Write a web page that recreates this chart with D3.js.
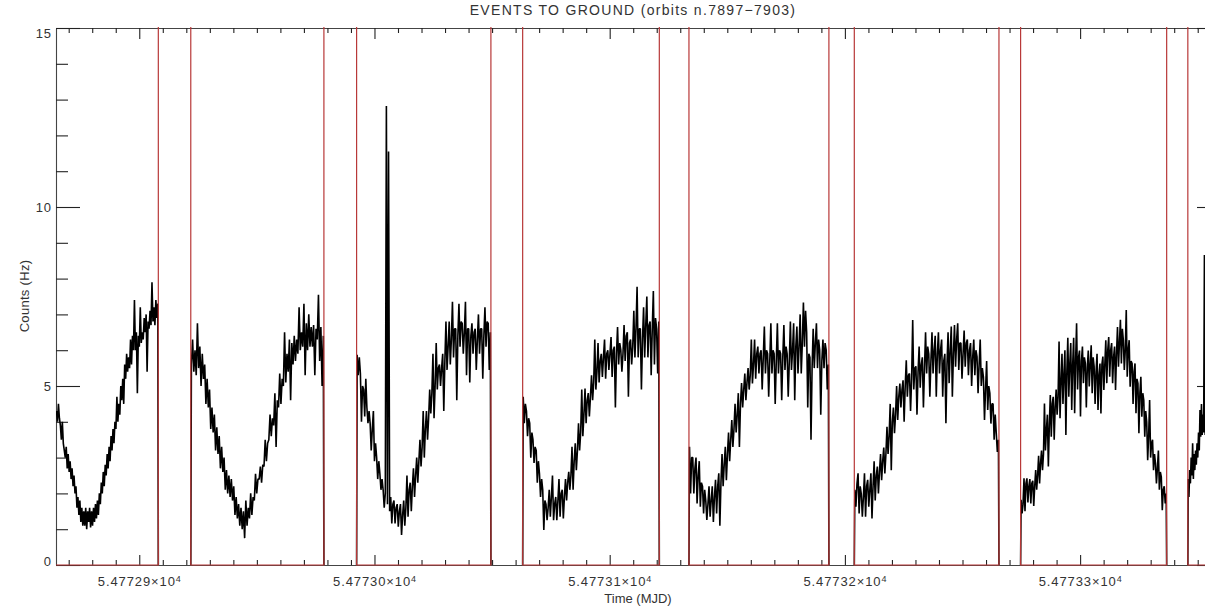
<!DOCTYPE html>
<html>
<head>
<meta charset="utf-8">
<script src="https://cdn.jsdelivr.net/npm/d3@7"></script>
<style>
  body { margin: 0; background: #fff; }
  svg text { font-family: "Liberation Sans", Arial, sans-serif; fill: #333; }
</style>
</head>
<body>
<svg id="chart" width="1205" height="606"></svg>
<script>
// orbit windows in MJD (data taken between the gaps)
var orbitStart = [54772.8646, 54772.9219, 54772.9924, 54773.0630, 54773.1337, 54773.2040, 54773.2747, 54773.3458];
var orbitEnd   = [54772.9081, 54772.9785, 54773.0495, 54773.1211, 54773.1932, 54773.2655, 54773.3368, 54773.3599];

// counts (Hz), evenly sampled inside each orbit window
var orbit0 = [4.3, 4.0, 4.5, 4.1, 3.9, 3.5, 4.0, 3.4, 3.2, 3.0, 3.3, 2.7, 3.1, 2.6, 2.9, 2.4, 2.7, 2.2, 2.5, 2.0, 2.2, 1.6, 1.9, 1.4, 1.8, 1.2, 1.6, 1.1, 1.5, 1.1, 1.6, 1.0, 1.5, 1.2, 1.6, 1.05, 1.5, 1.1, 1.6, 1.2, 1.7, 1.3, 1.8, 1.4, 2.0, 1.7, 2.3, 2.0, 2.6, 2.2, 2.8, 2.5, 3.1, 2.7, 3.3, 2.9, 3.6, 3.2, 3.8, 3.4, 4.0, 3.8, 4.7, 4.0, 4.5, 4.2, 5.0, 4.6, 5.2, 4.5, 5.6, 5.2, 5.9, 5.4, 5.8, 5.5, 6.3, 5.6, 6.4, 6.0, 7.4, 6.0, 6.5, 4.8, 6.4, 6.1, 7.2, 6.2, 6.5, 6.3, 6.9, 6.5, 7.0, 5.4, 6.8, 6.6, 7.1, 6.7, 7.9, 6.8, 7.2, 6.7, 7.4, 6.9, 7.3];
var orbit1 = [5.6, 6.3, 5.4, 6.0, 5.3, 6.75, 5.5, 6.1, 5.0, 5.9, 5.2, 5.6, 4.5, 5.2, 4.4, 4.9, 3.8, 4.4, 3.7, 4.2, 3.2, 3.85, 3.1, 3.6, 2.7, 3.3, 2.6, 3.0, 2.1, 2.65, 2.0, 2.5, 1.9, 2.4, 1.8, 2.2, 1.4, 1.9, 1.3, 1.7, 1.1, 1.6, 1.0, 1.5, 0.75, 1.8, 1.1, 1.6, 1.3, 2.0, 1.4, 1.9, 1.8, 2.55, 2.0, 2.4, 2.4, 2.75, 2.3, 2.8, 2.75, 3.5, 2.9, 3.4, 3.5, 4.2, 3.6, 4.1, 3.9, 4.8, 3.3, 4.6, 4.4, 5.35, 4.5, 5.2, 5.0, 6.5, 5.1, 5.9, 5.4, 6.3, 4.6, 6.2, 5.6, 6.4, 5.7, 6.3, 5.9, 7.2, 6.0, 6.5, 6.1, 7.3, 5.3, 6.75, 6.0, 7.0, 6.1, 6.65, 6.1, 6.7, 5.3, 6.6, 6.3, 7.55, 5.7, 6.65, 5.0, 6.4];
var orbit2 = [5.87, 5.3, 5.8, 5.35, 4.0, 5.0, 4.9, 4.15, 5.2, 4.4, 3.96, 4.3, 3.96, 3.2, 3.8, 4.3, 2.9, 3.4, 3.0, 2.4, 2.9, 2.55, 2.1, 2.4, 2.1, 1.6, 2.0, 12.82, 1.7, 11.55, 1.5, 1.9, 1.16, 1.7, 1.8, 1.16, 1.6, 1.7, 1.07, 1.5, 1.7, 0.84, 1.4, 1.8, 1.1, 1.6, 2.5, 1.35, 2.1, 2.3, 1.5, 2.2, 2.7, 1.9, 2.5, 3.0, 2.3, 2.9, 3.5, 2.75, 3.3, 4.3, 3.0, 3.8, 4.3, 3.5, 4.1, 4.9, 4.23, 4.8, 5.9, 4.1, 5.0, 6.2, 4.9, 5.5, 5.6, 5.0, 5.5, 5.9, 4.3, 5.7, 6.8, 5.45, 6.1, 6.8, 5.6, 6.3, 7.35, 5.8, 6.6, 6.6, 4.6, 6.4, 7.3, 6.1, 6.8, 6.75, 5.9, 6.5, 7.35, 5.3, 6.6, 6.6, 5.1, 6.4, 6.75, 5.9, 6.5, 6.6, 5.45, 6.3, 7.0, 5.9, 6.6, 6.6, 5.2, 6.4, 7.2, 6.1, 6.8, 6.75, 5.45, 6.5];
var orbit3 = [4.7, 3.96, 4.5, 4.3, 3.6, 4.1, 3.96, 3.0, 3.7, 3.5, 2.85, 3.3, 3.2, 2.3, 2.9, 2.55, 1.9, 2.4, 2.1, 0.98, 1.8, 1.7, 1.25, 1.6, 2.1, 1.35, 1.9, 2.5, 1.25, 1.7, 1.9, 1.25, 1.8, 2.4, 1.35, 2.0, 2.1, 1.3, 1.9, 2.4, 1.8, 2.3, 2.6, 2.1, 2.5, 3.3, 2.1, 2.9, 3.4, 2.65, 3.2, 3.96, 3.2, 3.7, 4.9, 3.6, 4.2, 4.93, 3.96, 4.6, 4.8, 4.15, 4.7, 5.3, 4.6, 5.1, 6.3, 4.9, 5.4, 6.2, 5.1, 5.7, 5.9, 5.25, 5.8, 6.3, 5.2, 5.9, 6.0, 5.45, 5.9, 6.37, 5.25, 6.0, 6.1, 4.4, 5.9, 6.65, 5.6, 6.2, 6.0, 5.4, 5.9, 6.7, 5.7, 6.4, 6.5, 4.7, 6.2, 6.3, 5.6, 6.1, 7.1, 5.8, 6.6, 7.77, 5.8, 6.6, 6.6, 4.9, 6.3, 7.2, 5.8, 6.7, 7.5, 5.8, 6.7, 6.8, 5.3, 6.6, 7.65, 5.6, 6.9, 6.6, 5.35, 6.8];
var orbit4 = [3.3, 2.0, 3.0, 3.0, 2.0, 2.7, 3.0, 1.72, 2.5, 2.9, 1.63, 2.3, 2.2, 1.44, 2.1, 1.8, 1.26, 1.7, 2.2, 1.35, 1.8, 2.2, 1.2, 1.9, 2.38, 1.44, 2.2, 2.56, 1.1, 2.3, 3.1, 2.2, 2.8, 3.3, 2.37, 3.1, 3.7, 2.9, 3.5, 4.05, 3.3, 3.8, 4.5, 3.7, 4.2, 4.8, 3.3, 4.5, 5.08, 4.4, 4.9, 5.35, 4.6, 5.1, 5.5, 4.9, 5.3, 6.3, 5.07, 5.6, 6.3, 5.2, 5.9, 6.1, 5.35, 5.9, 6.0, 4.9, 5.8, 6.66, 5.35, 6.0, 5.9, 4.7, 5.7, 6.75, 5.35, 6.0, 5.9, 4.5, 5.7, 6.75, 5.35, 6.0, 5.9, 4.6, 5.8, 6.7, 5.45, 6.1, 5.9, 4.7, 5.7, 6.8, 5.45, 6.0, 6.75, 4.6, 6.1, 6.66, 5.35, 6.1, 7.0, 5.35, 6.2, 7.33, 6.1, 7.1, 6.5, 4.4, 5.9, 5.8, 3.5, 5.5, 6.6, 5.5, 6.2, 6.75, 5.5, 6.3, 6.0, 4.2, 5.7, 6.3, 5.5, 6.2, 6.0, 4.9, 5.6];
var orbit5 = [2.1, 1.63, 2.27, 2.56, 1.44, 2.2, 1.99, 1.35, 1.9, 2.56, 1.35, 2.2, 2.38, 1.63, 2.1, 2.56, 1.3, 2.2, 2.9, 1.8, 2.5, 2.75, 2.0, 2.6, 3.1, 2.37, 2.9, 3.28, 2.56, 3.1, 3.86, 3.1, 3.6, 4.5, 2.65, 4.0, 4.4, 3.68, 4.2, 5.0, 4.05, 4.7, 5.07, 4.4, 4.9, 5.16, 4.0, 5.0, 5.72, 4.7, 5.3, 5.35, 4.3, 5.2, 6.84, 4.9, 5.5, 5.55, 4.2, 5.4, 6.1, 4.95, 5.6, 5.8, 4.4, 5.5, 6.5, 5.35, 6.1, 5.9, 4.7, 5.7, 6.5, 5.35, 6.0, 6.4, 4.7, 5.9, 6.5, 5.35, 6.0, 6.3, 4.7, 5.7, 5.9, 3.96, 5.6, 6.5, 5.08, 6.0, 6.66, 4.7, 5.9, 6.7, 5.54, 6.3, 6.75, 5.45, 6.2, 6.2, 5.2, 5.9, 6.55, 5.54, 6.2, 6.3, 5.3, 6.0, 6.2, 5.0, 5.8, 6.3, 5.3, 6.0, 5.82, 4.8, 5.6, 6.3, 5.0, 5.5, 5.25, 4.05, 4.9, 5.7, 4.33, 5.0, 4.8, 3.95, 4.5, 4.5, 3.5, 4.2, 3.67, 3.16, 3.5];
var orbit6 = [1.82, 1.44, 1.7, 2.42, 1.5, 2.28, 2.42, 1.75, 2.2, 2.4, 1.72, 2.28, 2.35, 1.65, 2.2, 2.65, 2.1, 2.5, 3.05, 2.28, 2.84, 3.2, 2.65, 3.1, 4.51, 3.2, 3.77, 4.2, 2.75, 3.9, 4.75, 3.58, 4.5, 4.7, 3.5, 4.4, 4.9, 4.2, 4.7, 6.24, 4.1, 5.1, 5.9, 4.5, 5.3, 6.0, 3.63, 5.4, 6.35, 4.7, 5.6, 6.2, 4.33, 5.6, 6.35, 4.24, 5.7, 6.75, 4.9, 5.8, 5.99, 4.15, 5.7, 6.1, 5.08, 5.8, 5.63, 4.4, 5.5, 5.99, 4.99, 5.6, 6.14, 4.8, 5.8, 5.54, 4.5, 5.4, 5.9, 4.33, 5.3, 5.63, 4.23, 5.6, 5.82, 4.89, 5.6, 6.28, 5.08, 6.0, 6.37, 5.26, 6.0, 6.2, 5.08, 5.8, 6.1, 4.89, 5.9, 6.65, 5.54, 6.2, 6.85, 5.63, 6.6, 6.28, 5.45, 6.0, 7.12, 5.26, 6.0, 6.28, 4.98, 5.7, 5.63, 4.5, 5.4, 5.63, 4.24, 5.2, 5.07, 3.68, 4.8, 5.26, 4.14, 4.8, 4.6, 3.58, 4.3, 4.0, 2.93, 3.6, 4.61, 3.0, 3.4, 3.5, 2.65, 3.1, 2.84, 2.28, 2.7, 3.2, 2.1, 2.6, 2.46, 1.53, 2.1, 2.2, 1.72, 2.0];
var orbit7 = [2.4, 1.9, 2.65, 2.28, 3.0, 2.5, 3.4, 2.4, 3.1, 2.65, 3.2, 2.8, 3.4, 3.0, 3.7, 3.2, 4.33, 3.58, 4.5, 3.63, 4.2, 3.7, 8.66, 3.63, 4.3, 4.6, 3.9, 4.4, 4.8, 4.0, 4.6, 4.9, 4.2, 4.8, 5.0, 4.3, 4.9, 5.1, 4.4, 5.0, 5.2, 4.5, 5.1, 5.3, 4.6];

var xDomain = [54772.8646, 54773.3599];
var yDomain = [0, 15];
var xTicksMajor = [54772.9, 54773.0, 54773.1, 54773.2, 54773.3];
var xTickLabels = ["5.47729", "5.47730", "5.47731", "5.47732", "5.47733"];
var xTickExp = "4";
var yTicksMajor = [0, 5, 10, 15];
var yTickLabels = ["0", "5", "10", "15"];
var yTicksMinor = [1, 2, 3, 4, 6, 7, 8, 9, 11, 12, 13, 14];
var flagHigh = 20; // gap flag, off the top of the plot

// plot box (right edge falls just outside the window)
var pLeft = 56, pRight = 1221, pTop = 28, pBottom = 565;

var svg = d3.select("#chart");
var x = d3.scaleLinear().domain(xDomain).range([pLeft, pRight]);
var y = d3.scaleLinear().domain(yDomain).range([pBottom, pTop]);

var xTicksMinor = d3.range(0, 50).map(function(i){ return 54772.87 + i * 0.01 })
  .filter(function(t){ return t < xDomain[1] && xTicksMajor.every(function(m){ return Math.abs(m - t) > 1e-6 }) });

svg.append("clipPath").attr("id", "plotclip")
  .append("rect").attr("x", pLeft).attr("y", pTop - 1).attr("width", pRight - pLeft).attr("height", pBottom - pTop + 2);

function tidy(g, keepDomain){
  if (!keepDomain) g.select(".domain").remove();
  g.select(".domain").attr("stroke", "#444").attr("stroke-width", 1.1);
  g.selectAll(".tick line").attr("stroke", "#222").attr("stroke-width", 1.1);
  g.selectAll(".tick text").attr("font-size", 13).attr("letter-spacing", "0.9px").attr("fill", "#333");
}

// bottom axis
var gB = svg.append("g").attr("transform", "translate(0," + pBottom + ")")
  .call(d3.axisBottom(x).tickValues(xTicksMajor).tickSizeInner(-10).tickSizeOuter(0).tickPadding(12)
    .tickFormat(function(d, i){ return xTickLabels[i] }));
tidy(gB, true);
gB.selectAll(".tick text").each(function(){
  var t = d3.select(this);
  var lbl = t.text();
  t.text(lbl + "×10");
  t.append("tspan").attr("dy", "-0.5em").attr("font-size", 9).text(xTickExp);
});
svg.append("g").attr("transform", "translate(0," + pBottom + ")")
  .call(d3.axisBottom(x).tickValues(xTicksMinor).tickSizeInner(-5).tickSizeOuter(0).tickFormat(""))
  .call(tidy, false);

// top axis
svg.append("g").attr("transform", "translate(0," + pTop + ")")
  .call(d3.axisTop(x).tickValues(xTicksMajor).tickSizeInner(-11).tickSizeOuter(0).tickFormat(""))
  .call(tidy, true);
svg.append("g").attr("transform", "translate(0," + pTop + ")")
  .call(d3.axisTop(x).tickValues(xTicksMinor).tickSizeInner(-5).tickSizeOuter(0).tickFormat(""))
  .call(tidy, false);

// left axis
var gL = svg.append("g").attr("transform", "translate(" + pLeft + ",0)")
  .call(d3.axisLeft(y).tickValues(yTicksMajor).tickSizeInner(-24).tickSizeOuter(0).tickPadding(4)
    .tickFormat(function(d, i){ return yTickLabels[i] }));
tidy(gL, true);
gL.selectAll(".tick text").attr("dy", function(d){ return d === 0 ? "0em" : (d === 15 ? "0.72em" : "0.36em") });
svg.append("g").attr("transform", "translate(" + pLeft + ",0)")
  .call(d3.axisLeft(y).tickValues(yTicksMinor).tickSizeInner(-12).tickSizeOuter(0).tickFormat(""))
  .call(tidy, false);

// right axis (sits just past the window edge)
svg.append("g").attr("transform", "translate(" + pRight + ",0)")
  .call(d3.axisRight(y).tickValues(yTicksMajor).tickSizeInner(-24).tickSizeOuter(0).tickFormat(""))
  .call(tidy, true);
svg.append("g").attr("transform", "translate(" + pRight + ",0)")
  .call(d3.axisRight(y).tickValues(yTicksMinor).tickSizeInner(-12).tickSizeOuter(0).tickFormat(""))
  .call(tidy, false);

// titles
svg.append("text").attr("x", 633).attr("y", 15).attr("text-anchor", "middle")
  .attr("font-size", 14).attr("letter-spacing", "1.3px")
  .text("EVENTS TO GROUND (orbits n.7897\u22127903)");
svg.append("text").attr("x", 638).attr("y", 603).attr("text-anchor", "middle")
  .attr("font-size", 13).text("Time (MJD)");
svg.append("text").attr("transform", "translate(29,296) rotate(-90)").attr("text-anchor", "middle")
  .attr("font-size", 13).attr("letter-spacing", "0.3px").text("Counts (Hz)");

// light curve
var orbits = [orbit0, orbit1, orbit2, orbit3, orbit4, orbit5, orbit6, orbit7];
var line = d3.line().x(function(d){ return x(d.t) }).y(function(d){ return y(d.v) });
var plot = svg.append("g").attr("clip-path", "url(#plotclip)");

orbits.forEach(function(vals, i){
  var t0 = orbitStart[i], t1 = orbitEnd[i], n = vals.length;
  var pts = [];
  if (i > 0) pts.push({t: t0, v: 0});
  vals.forEach(function(v, j){ pts.push({t: t0 + (t1 - t0) * (j + 0.5) / n, v: v}) });
  if (i < orbits.length - 1) pts.push({t: t1, v: 0});
  plot.append("path").datum(pts)
    .attr("fill", "none").attr("stroke", "#000").attr("stroke-width", 1.6)
    .attr("stroke-linejoin", "bevel").attr("d", line);
});

// gap flag (red)
var flag = [{t: xDomain[0], v: 0}];
for (var i = 0; i < orbits.length - 1; i++) {
  flag.push({t: orbitEnd[i], v: 0}, {t: orbitEnd[i], v: flagHigh},
            {t: orbitStart[i + 1], v: flagHigh}, {t: orbitStart[i + 1], v: 0});
}
flag.push({t: xDomain[1], v: 0});
plot.append("path").datum(flag)
  .attr("fill", "none").attr("stroke", "#b83838").attr("stroke-width", 1.2).attr("d", line);
</script>
</body>
</html>
